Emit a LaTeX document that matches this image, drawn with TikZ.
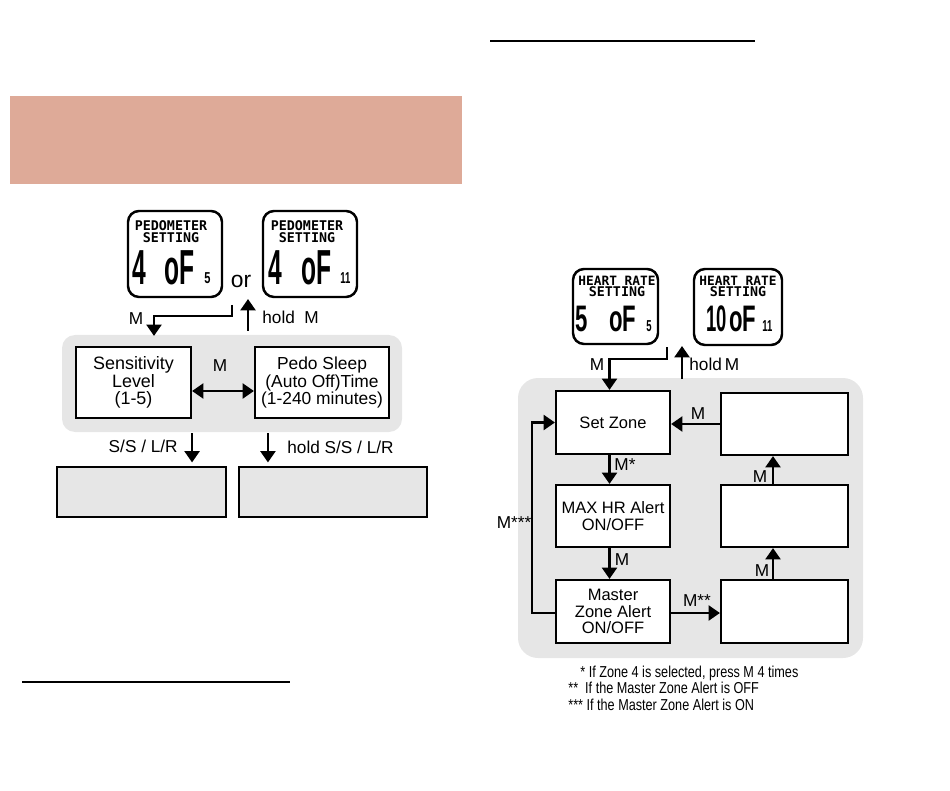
\documentclass[tikz,border=0pt]{standalone}
\usepackage{fontspec}
\setmainfont{Liberation Sans}
\newfontfamily\lcdfont{DejaVu Sans Mono}
\usepackage{graphicx}
\usepackage{xcolor}
\usetikzlibrary{arrows.meta, positioning}

\definecolor{salmon}{HTML}{DEAA98}
\definecolor{panelgray}{HTML}{E6E6E6}

\begin{document}
\begin{tikzpicture}[
    x=0.2mm, y=-0.2mm,
    block/.style={rectangle, draw, line width=1.2pt, fill=white, align=center, inner sep=0pt, font=\fontsize{10.2}{9.8}\selectfont},
    zblock/.style={block, font=\fontsize{9.4}{9.6}\selectfont},
    outbox/.style={block, fill=panelgray},
    lcd/.style={rectangle, draw, line width=1.4pt, rounded corners=2.2mm, inner sep=0pt, fill=white},
    lcdhead/.style={inner sep=0pt, anchor=base, font=\lcdfont\bfseries\fontsize{7.6}{7.6}\selectfont},
    lcdbig/.style={inner sep=0pt, anchor=base west, font=\bfseries\fontsize{28}{28}\selectfont},
    lcdmid/.style={inner sep=0pt, anchor=base west, font=\bfseries\fontsize{21}{21}\selectfont},
    lcdsmall/.style={inner sep=0pt, anchor=base west, font=\bfseries\fontsize{9}{9}\selectfont},
    lbl/.style={inner sep=0pt, font=\fontsize{9.8}{9.8}\selectfont},
    note/.style={inner sep=0pt, anchor=base west, font=\fontsize{9}{9}\selectfont},
    arrow/.style={-{Triangle[length=6.5pt, width=8.5pt]}, line width=1.6pt},
    dblarrow/.style={{Triangle[length=6.5pt, width=8.5pt]}-{Triangle[length=6.5pt, width=8.5pt]}, line width=1.6pt},
]
    \useasboundingbox (0,0) rectangle (950,791);

    % page decoration
    \fill[salmon] (10,96) rectangle (462,184);
    \draw[line width=1pt] (490,41) -- (755,41);
    \draw[line width=1pt] (22,682) -- (290,682);

    % --- pedometer setting ---
    \fill[panelgray, rounded corners=2.6mm] (62,335) rectangle (402,432);

    \node[lcd, minimum width=18.8mm, minimum height=17.2mm] (lcdA) at (175,254) {};
    \node[lcdhead] (lcdAhead) at (171,231) {PEDOMETER};
    \node[lcdhead] (lcdAsub) at (171,243) {SETTING};
    \node[lcdbig] (lcdAnum) at (132,285) {\scalebox{0.5}[1]{4}};
    \node[lcdbig] (lcdAof) at (164,285) {\scalebox{0.5}[1]{oF}};
    \node[lcdsmall] (lcdAtot) at (204,284) {\scalebox{0.7}[1]{5}};

    \node[lbl, font=\fontsize{13}{13}\selectfont] (orword) at (241,281) {or};

    \node[lcd, minimum width=18.8mm, minimum height=17.2mm] (lcdB) at (310,254) {};
    \node[lcdhead] (lcdBhead) at (307,231) {PEDOMETER};
    \node[lcdhead] (lcdBsub) at (307,243) {SETTING};
    \node[lcdbig] (lcdBnum) at (268,285) {\scalebox{0.5}[1]{4}};
    \node[lcdbig] (lcdBof) at (301,285) {\scalebox{0.5}[1]{oF}};
    \node[lcdsmall] (lcdBtot) at (340,284) {\scalebox{0.6}[1]{11}};

    \node[block, minimum width=23mm, minimum height=14.2mm] (sens) at (133.5,382.5) {Sensitivity\\Level\\(1-5)};
    \node[block, minimum width=26.8mm, minimum height=14.2mm, font=\fontsize{9.9}{9.8}\selectfont] (pedo) at (322,382.5) {Pedo Sleep\\(Auto Off)Time\\(1-240 minutes)};
    \node[outbox, minimum width=33.8mm, minimum height=10mm] (outA) at (141.5,492) {};
    \node[outbox, minimum width=37.6mm, minimum height=10mm] (outB) at (333,492) {};

    \coordinate (mLstart) at (232,305);
    \coordinate (mLturn) at (232,316);
    \draw[arrow] (mLstart) -- (mLturn) -| ([xshift=4.1mm, yshift=2mm]sens.north);
    \node[lbl] (mLlbl) at (136,319) {M};
    \draw[arrow] (248,331) -- (248,299);
    \node[lbl, anchor=base west] (holdLlbl) at (262,323) {hold\ \ M};

    \draw[dblarrow] ([yshift=-1.7mm]sens.east) -- ([yshift=-1.7mm]pedo.west);
    \node[lbl] (swapLbl) at (220,366) {M};

    \draw[arrow, shorten >=0.7mm] ([yshift=-2.8mm]sens.south east) -- (sens.east |- outA.north);
    \node[lbl, anchor=base east] (ssLbl) at (178,452) {S/S / L/R};
    \draw[arrow, shorten >=0.7mm] ([xshift=2.8mm, yshift=-2.8mm]pedo.south west) -- ([xshift=2.8mm]pedo.south west |- outB.north);
    \node[lbl, anchor=base west] (holdssLbl) at (287,453) {hold S/S / L/R};

    % --- heart rate setting ---
    \fill[panelgray, rounded corners=4mm] (518,378) rectangle (863,658);

    \node[lcd, minimum width=17mm, minimum height=15mm] (lcdC) at (615.5,306.5) {};
    \node[lcdhead, font=\lcdfont\bfseries\fontsize{7.3}{7.3}\selectfont] (lcdChead) at (617,286) {HEART RATE};
    \node[lcdhead] (lcdCsub) at (617,297) {SETTING};
    \node[lcdmid] (lcdCnum) at (575,332) {\scalebox{0.6}[1]{5}};
    \node[lcdmid] (lcdCof) at (609,332) {\scalebox{0.6}[1]{oF}};
    \node[lcdsmall] (lcdCtot) at (646,332) {\scalebox{0.6}[1]{5}};

    \node[lcd, minimum width=17.6mm, minimum height=15.2mm] (lcdD) at (738,307) {};
    \node[lcdhead, font=\lcdfont\bfseries\fontsize{7.3}{7.3}\selectfont] (lcdDhead) at (738,286) {HEART RATE};
    \node[lcdhead] (lcdDsub) at (738,297) {SETTING};
    \node[lcdmid] (lcdDnum) at (706,332) {\scalebox{0.5}[1]{10}};
    \node[lcdmid] (lcdDof) at (729,332) {\scalebox{0.6}[1]{oF}};
    \node[lcdsmall] (lcdDtot) at (762,332) {\scalebox{0.6}[1]{11}};

    \node[zblock, minimum width=22.8mm, minimum height=12.6mm] (zone) at (613,422.5) {Set Zone};
    \node[zblock, minimum width=22.8mm, minimum height=12.4mm] (maxhr) at (613,516) {MAX HR Alert\\ON/OFF};
    \node[zblock, minimum width=22.8mm, minimum height=12.6mm] (master) at (613,611.5) {Master\\Zone Alert\\ON/OFF};
    \node[zblock, minimum width=25.4mm, minimum height=12.4mm] (topR) at (784.5,424) {};
    \node[zblock, minimum width=25.4mm, minimum height=12.4mm] (midR) at (784.5,516) {};
    \node[zblock, minimum width=25.4mm, minimum height=12.6mm] (botR) at (784.5,611.5) {};

    \coordinate (mRstart) at (667,347);
    \coordinate (mRturn) at (667,359);
    \draw[arrow] (mRstart) -- (mRturn) -| ([xshift=-0.7mm]zone.north);
    \node[lbl] (mRlbl) at (597,365) {M};
    \draw[arrow] (682,379) -- (682,346);
    \node[lbl, anchor=base west] (holdRlbl) at (689,370) {hold\,M};

    \draw[arrow] (topR.west) -- (topR.west -| zone.east);
    \node[lbl] (backLbl) at (698,414) {M};
    \draw[arrow] ([xshift=-0.7mm]zone.south) -- ([xshift=-0.7mm]maxhr.north);
    \node[lbl] (starLbl) at (625,465) {M*};
    \draw[arrow] ([xshift=-0.7mm]maxhr.south) -- ([xshift=-0.7mm]master.north);
    \node[lbl] (nextLbl) at (622,560) {M};
    \draw[arrow] ([yshift=-0.3mm]master.east) -- ([yshift=-0.3mm]master.east -| botR.west);
    \node[lbl] (offLbl) at (697,601) {M**};
    \draw[arrow] ([xshift=-2.3mm]botR.north) -- ([xshift=-2.3mm]botR.north |- midR.south);
    \node[lbl] (upALbl) at (762,571) {M};
    \draw[arrow] ([xshift=-2.3mm]midR.north) -- ([xshift=-2.3mm]midR.north |- topR.south);
    \node[lbl] (upBLbl) at (760,477) {M};
    \draw[arrow] ([yshift=-0.3mm]master.west) -- ++(-23,0) |- (zone.west);
    \node[lbl] (onLbl) at (514,523) {M***};

    \node[note] (noteA) at (580,677) {\scalebox{0.8}[1]{* If Zone 4 is selected, press M 4 times}};
    \node[note] (noteB) at (568,693) {\scalebox{0.8}[1]{**\ \ If the Master Zone Alert is OFF}};
    \node[note] (noteC) at (568,710) {\scalebox{0.8}[1]{*** If the Master Zone Alert is ON}};
\end{tikzpicture}
\end{document}
